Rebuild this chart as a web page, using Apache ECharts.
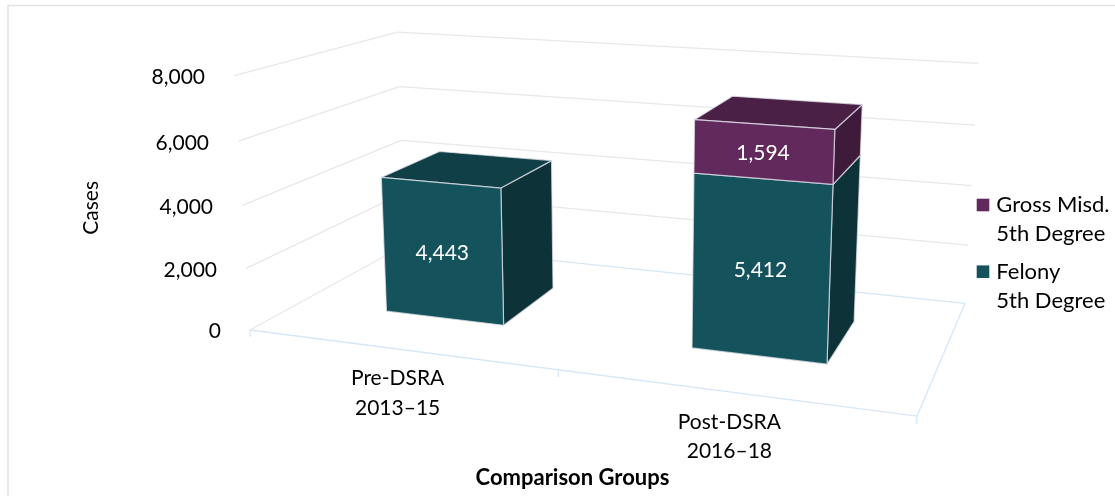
<!DOCTYPE html>
<html><head><meta charset="utf-8">
<style>html,body{margin:0;padding:0;background:#fff}#c{width:1115px;height:496px}</style>
<script src="https://cdn.jsdelivr.net/npm/echarts@6/dist/echarts.min.js"></script>
</head><body><div id="c"></div>
<script>
const categories = ['Pre-DSRA\n2013–15', 'Post-DSRA\n2016–18'];
const felony = [4443, 5412];
const grossMisd = [null, 1594];
const yTicks = [0, 2000, 4000, 6000, 8000];
const seriesNames = ['Felony\n5th Degree', 'Gross Misd.\n5th Degree'];

const FONT = 'Lato, "Noto Sans", sans-serif';
const FS = 21;
const INK = '#000';
// perspective matrix: (u across, v depth, w height, 1) to homogeneous pixels
const PROJ = [[538, 237.3, -25, 250], [27.5, -35.2, -257.5, 330], [-0.1407, 0.2031, -0.04, 1]];
const DEPTH = [0.3, 0.7];
const BAR_RATIO = 0.4;
const TEAL = ['#14525c', '#103f47', '#0d3339'];
const PURPLE = ['#62295c', '#4a2046', '#3e1b3b'];
const EDGE = 'rgba(226,226,236,0.72)';
const GRID = '#e8e8e8';
const FLOOR = '#d5e7f6';

function project(u, v, w) {
  const r = PROJ.map(m => m[0] * u + m[1] * v + m[2] * w + m[3]);
  return [r[0] / r[2], r[1] / r[2]];
}
function toPlane(sys, pt) {
  return [(pt[0] - sys.x) / sys.width, (sys.y + sys.height - pt[1]) / sys.height];
}
function renderBar(colors) {
  return function (params, api) {
    const value = api.value(1), base = api.value(2), cat = api.value(0);
    if (isNaN(value)) return;
    const sys = params.coordSys;
    const [uc, w0] = toPlane(sys, api.coord([cat, base]));
    const [, w1] = toPlane(sys, api.coord([cat, base + value]));
    const half = api.size([1, 0])[0] / sys.width * BAR_RATIO / 2;
    const u0 = uc - half, u1 = uc + half, v0 = DEPTH[0], v1 = DEPTH[1];
    const face = (pts, fill) => ({
      type: 'polygon', shape: { points: pts },
      style: { fill, stroke: EDGE, lineWidth: 1.2, lineJoin: 'round' }
    });
    const mid = project(uc, v0, (w0 + w1) / 2);
    return {
      type: 'group',
      children: [
        face([project(u1, v0, w0), project(u1, v1, w0), project(u1, v1, w1), project(u1, v0, w1)], colors[2]),
        face([project(u0, v0, w1), project(u1, v0, w1), project(u1, v1, w1), project(u0, v1, w1)], colors[1]),
        face([project(u0, v0, w0), project(u1, v0, w0), project(u1, v0, w1), project(u0, v0, w1)], colors[0]),
        { type: 'text', style: { x: mid[0], y: mid[1] + 2, text: value.toLocaleString('en-US'),
            fill: '#fff', font: FS + 'px ' + FONT, textAlign: 'center', textVerticalAlign: 'middle' } }
      ]
    };
  };
}
function renderWall(params, api) {
  const sys = params.coordSys;
  const [, w] = toPlane(sys, api.coord([0, api.value(0)]));
  const line = (pts, stroke) => ({ type: 'polyline', shape: { points: pts }, style: { stroke, fill: 'none', lineWidth: 1.3 } });
  const back = line([project(0, 1, w), project(1, 1, w)], w === 0 ? FLOOR : GRID);
  const side = line([project(0, 0, w), project(0, 1, w)], GRID);
  const children = [back, side];
  if (w === 0) {
    children.push(line([project(0, 0, 0), project(1, 0, 0), project(1, 1, 0)], FLOOR));
    [0, 0.5, 1].forEach(u => children.push(line([project(u, 0, 0), project(u, 0, -0.028)], FLOOR)));
  }
  return { type: 'group', children };
}

const rows = (vals, bases) => vals.map((v, i) => [i, v, bases ? bases[i] : 0]);
const yNudge = { 0: [2, 0, 0, 0], 2000: [6.4, 4, 0, 0], 4000: [6.7, 8, 0, 0], 6000: [5.6, 12, 0, 0], 8000: [1, 16, 0, 0] };
const yRich = {};
yTicks.forEach(t => { yRich['t' + t] = { fontFamily: FONT, fontSize: FS, color: INK, padding: yNudge[t] }; });
const squareIcon = 'path://M0 0L0 0M0 8.2H12.6V20.8H0ZM12.6 58L12.6 58';

const chart = echarts.init(document.getElementById('c'), null, { renderer: 'canvas' });
chart.setOption({
  animation: false,
  backgroundColor: '#fff',
  textStyle: { fontFamily: FONT },
  graphic: [{ type: 'rect', silent: true, z: -10, shape: { x: 8, y: 5.5, width: 1300, height: 800 },
    style: { fill: 'none', stroke: '#e2e2e2', lineWidth: 1.5 } }],
  grid: { left: 231.75, width: 663.5, top: 77, height: 253.7, outerBoundsMode: 'none' },
  legend: {
    left: 976.7, top: 190.5, orient: 'vertical', selectedMode: false,
    data: [seriesNames[1], seriesNames[0]],
    icon: squareIcon, itemWidth: 12.6, itemHeight: 58, itemGap: 8.7, padding: 0, itemStyle: { borderWidth: 0 },
    textStyle: { fontFamily: FONT, fontSize: 22, color: INK, lineHeight: 29, padding: [0, 0, 0, 2] }
  },
  xAxis: {
    type: 'category', data: categories, boundaryGap: true,
    axisLine: { show: false }, axisTick: { show: false }, splitLine: { show: false },
    name: 'Comparison Groups', nameLocation: 'middle', nameGap: 135,
    nameTextStyle: { fontFamily: FONT, fontSize: 22, fontWeight: 'bold', color: INK, padding: [0, 0, 0, 18] },
    axisLabel: {
      interval: 0, margin: 33, align: 'center',
      formatter: (v, i) => { const p = v.split('\n'); return (i ? '{s| }\n' : '') + '{a|' + p[0] + '}\n{a|' + p[1] + '}'; },
      rich: {
        a: { fontFamily: FONT, fontSize: FS, color: INK, lineHeight: 29.5 },
        s: { fontFamily: FONT, fontSize: 10, lineHeight: 43.5 }
      }
    }
  },
  yAxis: {
    type: 'value', min: 0, max: 8000, interval: 2000,
    axisLine: { show: false }, axisTick: { show: false }, splitLine: { show: false },
    name: 'Cases', nameLocation: 'middle', nameRotate: 90, nameGap: 130,
    nameTextStyle: { fontFamily: FONT, fontSize: FS, color: INK, padding: [0, 8, 0, 0] },
    axisLabel: {
      margin: 10.75,
      formatter: v => '{t' + v + '|' + v.toLocaleString('en-US') + '}',
      rich: yRich
    }
  },
  series: [
    { name: 'walls', type: 'custom', renderItem: renderWall, silent: true, clip: false, data: yTicks.map(t => [t]), encode: { y: 0 }, z: 1 },
    { name: seriesNames[0], type: 'custom', renderItem: renderBar(TEAL), clip: false, itemStyle: { color: TEAL[0] }, data: rows(felony), encode: { x: 0, y: 1 }, z: 2 },
    { name: seriesNames[1], type: 'custom', renderItem: renderBar(PURPLE), clip: false, itemStyle: { color: PURPLE[0] }, data: rows(grossMisd, felony), encode: { x: 0, y: 1 }, z: 3 }
  ]
});
</script></body></html>
